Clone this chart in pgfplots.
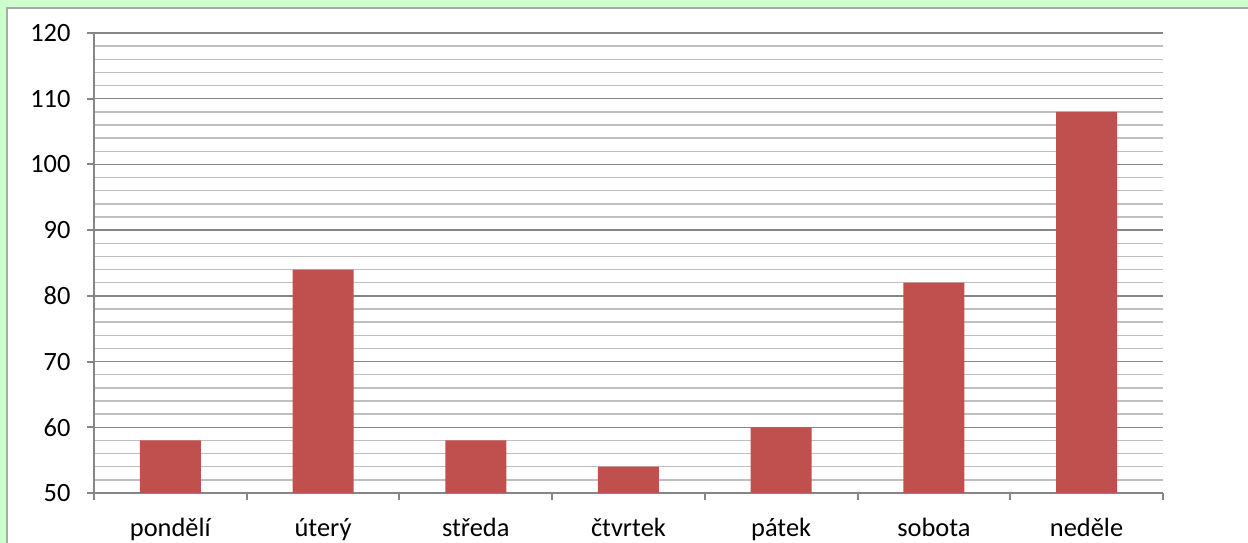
\documentclass[border=0pt]{standalone}
\usepackage{fontspec}
\setmainfont{Carlito}
\usepackage{pgfplots}
\pgfplotsset{compat=1.18}
\definecolor{bg}{HTML}{CCFFCC}
\definecolor{barred}{HTML}{C0504D}
\definecolor{majg}{HTML}{868686}
\definecolor{ming}{HTML}{BFBFBF}
\begin{document}
\begin{tikzpicture}[x=1bp,y=1bp]
\useasboundingbox (0,0) rectangle (1248,543);
\fill[bg] (0,0) rectangle (1248,543);
\begin{scope}
\clip (0,0) rectangle (1248,543);
\filldraw[fill=white,draw=majg!70,line width=1.5bp] (7,-10) rectangle (1260,535);
\end{scope}
\begin{axis}[
  at={(94bp,50bp)}, anchor=south west,
  scale only axis, width=1069bp, height=460bp,
  xmin=-0.5, xmax=6.5, ymin=50, ymax=120,
  axis x line=bottom, axis y line=left,
  axis line style={majg, line width=2.5bp, -},
  xtick={-0.5,0.5,...,6.5}, xticklabels={},
  extra x ticks={0,1,2,3,4,5,6},
  extra x tick labels={pondělí,úterý,středa,čtvrtek,pátek,sobota,neděle},
  extra x tick style={major tick length=0pt, xticklabel style={yshift=-22bp}},
  ytick={50,60,...,120},
  minor y tick num=4,
  minor tick length=0pt,
  major tick length=7bp,
  tick align=outside,
  tick style={majg, line width=2bp},
  ymajorgrids, yminorgrids,
  major grid style={majg, line width=1.4bp},
  minor grid style={ming, line width=1.4bp},
  tick label style={font=\fontsize{26.5}{30}\selectfont, text=black},
  /pgf/number format/assume math mode=true,
  yticklabel style={xshift=-13bp},
  clip=true,
]
\addplot[ybar, bar width=61bp, bar shift=0pt, fill=barred, draw=none]
  coordinates {(0,58) (1,84) (2,58) (3,54) (4,60) (5,82) (6,108)};
\end{axis}
\end{tikzpicture}
\end{document}
